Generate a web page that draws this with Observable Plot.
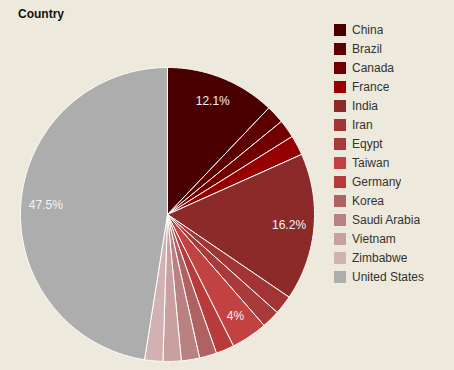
<!DOCTYPE html>
<html>
<head>
<meta charset="utf-8">
<script src="https://cdn.jsdelivr.net/npm/d3@7"></script>
<script src="https://cdn.jsdelivr.net/npm/@observablehq/plot@0.6"></script>
<style>
  html, body { margin: 0; padding: 0; background: #ede9dc; }
  #wrap { position: relative; width: 454px; height: 370px; overflow: hidden; background: #ede9dc; }
  #title { position: absolute; left: 18px; top: 7px; font: bold 12px "Liberation Sans", Arial, sans-serif; color: #111; }
  #chart { position: absolute; left: 0; top: 0; }
  #legend { position: absolute; left: 334px; top: 24px; }
  #legend .lg-swatches { font: 12px "Liberation Sans", Arial, sans-serif; color: #333; margin: 0; }
  #legend .lg-swatch { height: 12px; padding-bottom: 7px; display: flex; align-items: center; }
  #legend .lg-swatch svg { margin-right: 6px; }
  #legend .lg-label { line-height: 12px; }
</style>
</head>
<body>
<div id="wrap">
  <div id="chart"></div>
  <div id="title">Country</div>
  <div id="legend"></div>
</div>
<script>
const countries = ["China", "Brazil", "Canada", "France", "India", "Iran", "Eqypt", "Taiwan", "Germany", "Korea", "Saudi Arabia", "Vietnam", "Zimbabwe", "United States"];
const shares = [12.1, 2.0, 2.0, 2.2, 16.2, 2.1, 2.0, 4, 2.0, 1.9, 2.0, 2.0, 2.0, 47.5];
const colors = ["#4a0000", "#5c0000", "#720000", "#960000", "#8c2a2a", "#a23434", "#a83a3a", "#c24141", "#b83a3a", "#b06262", "#b98181", "#c9a0a0", "#d1b1b1", "#adadad"];

const data = countries.map((c, i) => ({country: c, value: shares[i]}));
const pie = d3.pie().sort(null).value(d => d.value)(data);

// polygon points for each slice (unit circle coordinates)
const pts = [];
for (const a of pie) {
  pts.push({country: a.data.country, x: 0, y: 0});
  const n = Math.max(2, Math.ceil((a.endAngle - a.startAngle) / (Math.PI / 360)));
  for (let k = 0; k <= n; k++) {
    const t = a.startAngle + (a.endAngle - a.startAngle) * k / n;
    pts.push({country: a.data.country, x: Math.sin(t), y: Math.cos(t)});
  }
  pts.push({country: a.data.country, x: 0, y: 0});
}
const labels = pie.filter(a => a.data.value >= 4).map(a => {
  const m = (a.startAngle + a.endAngle) / 2;
  return {x: 0.83 * Math.sin(m), y: 0.83 * Math.cos(m), text: a.data.value + "%"};
});

const chart = Plot.plot({
  width: 454,
  height: 370,
  margin: 0,
  style: {background: "transparent"},
  x: {domain: [-1, 1], range: [20, 314], axis: null},
  y: {domain: [-1, 1], range: [361, 67], axis: null},
  color: {domain: countries, range: colors},
  marks: [
    Plot.line(pts, {x: "x", y: "y", z: "country", fill: "country", stroke: "#ffffff", strokeWidth: 1, curve: "linear", strokeLinejoin: "round"}),
    Plot.text(labels, {x: "x", y: "y", text: "text", fill: "#f4f4f4", fontSize: 12, fontFamily: "Liberation Sans, Arial, sans-serif"})
  ]
});
document.getElementById("chart").appendChild(chart);

const legend = Plot.legend({
  color: {type: "ordinal", domain: countries, range: colors},
  legend: "swatches",
  columns: 1,
  swatchSize: 12,
  className: "lg"
});
document.getElementById("legend").appendChild(legend);
</script>
</body>
</html>
